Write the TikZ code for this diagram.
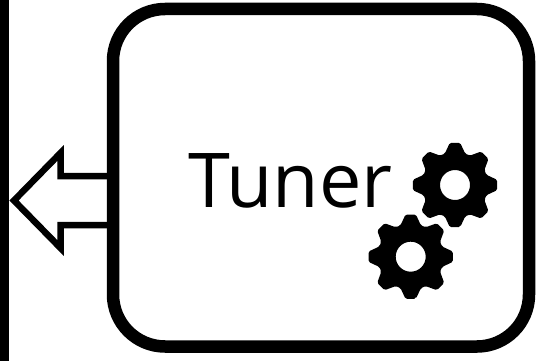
\documentclass[tikz,border=0pt]{standalone}
\usepackage{fontspec}
\setmainfont{Open Sans}
\tikzset{
  box/.style={draw=black,line width=12.5pt,rounded corners=52pt},
  arrowline/.style={draw=black,line width=6.5pt,miter limit=10},
  gear/.pic={
    \fill[even odd rule,rounded corners=1.6pt]
      (90-7:42.5) \foreach \a in {0,45,...,315}{
        -- (90+\a-7:42.5) -- (90+\a+7:42.5) -- (90+\a+18:33) -- (90+\a+27:33)
      } -- cycle
      (0:15) arc[start angle=0,end angle=360,radius=15];
  }
}
\begin{document}
\begin{tikzpicture}[x=1pt,y=-1pt]
\useasboundingbox (0,0) rectangle (551,361);
\fill[black] (0,0) rectangle (9,361);
\draw[box] (113,9) rectangle (529,346.5);
\draw[arrowline,line join=miter] (113,176) -- (60.5,176) -- (60.5,153) -- (14,200.5) -- (60.5,248) -- (60.5,225) -- (113,225);
\node[font=\fontsize{75.6}{76}\selectfont,anchor=base west,inner sep=0pt] (tuner) at (188,207) {Tuner};
\pic at (455,185) {gear};
\pic at (410.7,256.7) {gear};
\end{tikzpicture}
\end{document}
